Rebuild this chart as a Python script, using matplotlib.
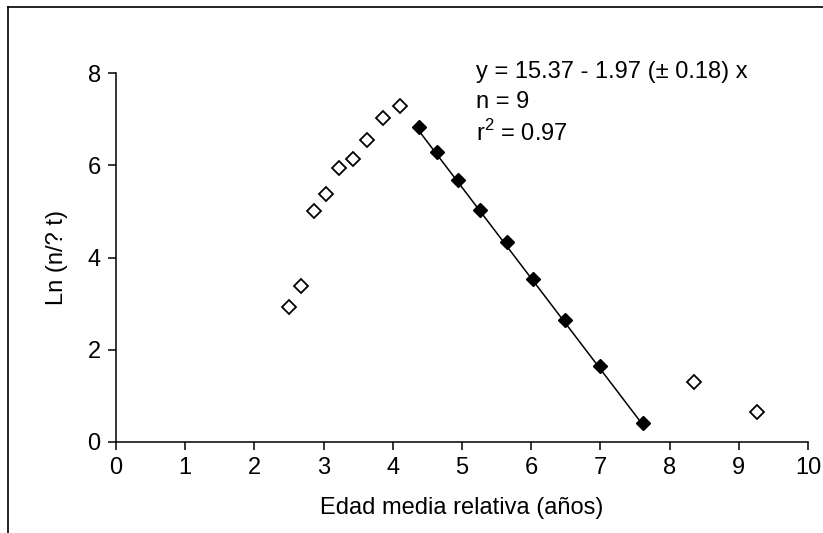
import matplotlib
matplotlib.use('Agg')
import matplotlib.pyplot as plt
from matplotlib.lines import Line2D
import numpy as np

# Data
open_x = [2.50, 2.68, 2.86, 3.03, 3.22, 3.43, 3.63, 3.86, 4.11, 8.35, 9.26]
open_y = [2.92, 3.39, 5.01, 5.38, 5.94, 6.14, 6.54, 7.03, 7.29, 1.30, 0.64]
fill_x = [4.38, 4.64, 4.94, 5.26, 5.65, 6.03, 6.49, 7.00, 7.62]
fill_y = [6.83, 6.29, 5.69, 5.04, 4.34, 3.53, 2.65, 1.64, 0.41]
intercept = 15.37
slope = -1.97
eq_lines = ['y = 15.37 - 1.97 (± 0.18) x', 'n = 9', r'r$^{\mathregular{2}}$ = 0.97']
xticks = list(range(0, 11))
yticks = [0, 2, 4, 6, 8]

plt.rcParams['font.family'] = ['Liberation Sans', 'DejaVu Sans']
plt.rcParams['mathtext.fontset'] = 'custom'
plt.rcParams['mathtext.rm'] = 'Liberation Sans'

fig = plt.figure(figsize=(8.23, 5.33), dpi=100)
ax = fig.add_axes([116 / 823, 1 - 442 / 533, 692 / 823, 369 / 533])

# fitted line over the descending limb
xl = np.array([fill_x[0], fill_x[-1]])
ax.plot(xl, intercept + slope * xl, color='black', lw=1.1, zorder=2)

ax.plot(fill_x, fill_y, ls='none', marker='D', markersize=7.5, color='black', zorder=3)
ax.plot(open_x, open_y, ls='none', marker='D', markersize=7,
        markerfacecolor='white', markeredgecolor='black', markeredgewidth=1.3, zorder=3)

# equation text
for i, t in enumerate(eq_lines):
    ax.text(5.2, 8.03 - i * 0.66, t, fontsize=17, va='center', ha='left')

ax.set_xlim(0, 10)
ax.set_ylim(0, 8)
ax.set_xticks(xticks)
ax.set_yticks(yticks)
ax.spines['top'].set_visible(False)
ax.spines['right'].set_visible(False)
for s in ['left', 'bottom']:
    ax.spines[s].set_linewidth(1.1)
ax.tick_params(direction='out', length=6, width=1.1, labelsize=17, pad=5)
ax.set_xlabel('Edad media relativa (años)', fontsize=17, labelpad=13)
ax.set_ylabel('Ln (n/? t)', fontsize=17, labelpad=14)

# outer frame (left and top edges)
fig.add_artist(Line2D([8 / 823, 8 / 823], [0, 1 - 7 / 533], color='black', lw=1.2,
                      transform=fig.transFigure))
fig.add_artist(Line2D([8 / 823, 1], [1 - 7 / 533, 1 - 7 / 533], color='black', lw=1.2,
                      transform=fig.transFigure))

fig.savefig('out.png', dpi=100)
